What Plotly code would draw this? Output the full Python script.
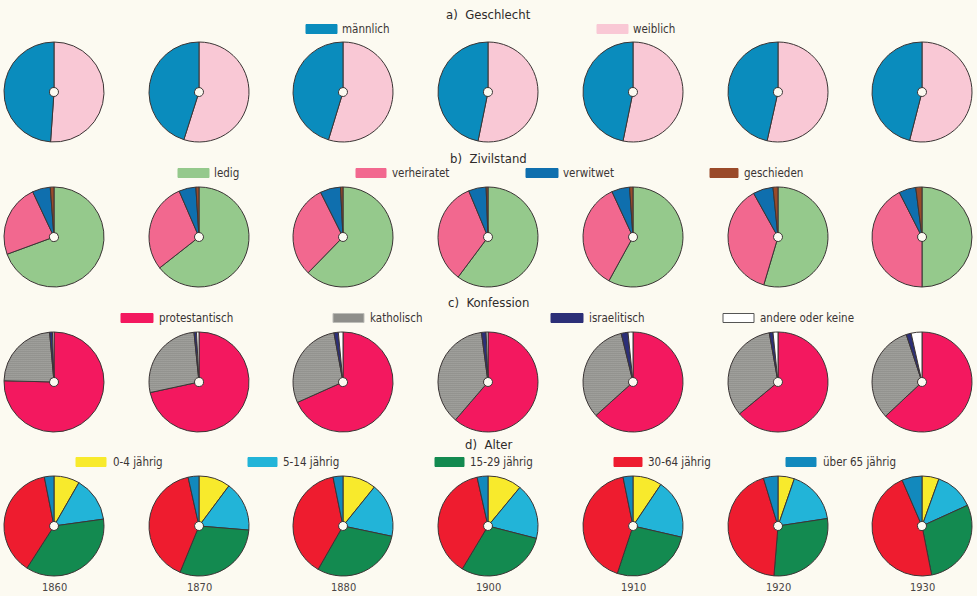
import plotly.graph_objects as go

W, H = 977, 596

years = ["1860", "1870", "1880", "1900", "1910", "1920", "1930"]

# a) Geschlecht
geschlecht_labels = ["männlich", "weiblich"]
maennlich = [48.9, 45.1, 45.3, 46.8, 46.8, 46.5, 46.0]
weiblich = [51.1, 54.9, 54.7, 53.2, 53.2, 53.5, 54.0]

# b) Zivilstand
zivil_labels = ["ledig", "verheiratet", "verwitwet", "geschieden"]
ledig = [69.4, 64.4, 62.3, 60.2, 58.0, 54.6, 50.0]
verheiratet = [23.6, 29.1, 30.3, 33.5, 35.1, 37.3, 42.5]
verwitwet = [5.8, 5.5, 6.6, 5.7, 5.8, 6.5, 5.5]
geschieden = [1.2, 1.0, 0.8, 0.6, 1.1, 1.6, 2.0]

# c) Konfession
konf_labels = ["protestantisch", "katholisch", "israelitisch", "andere oder keine"]
protestantisch = [75.4, 71.6, 68.3, 61.3, 63.3, 64.0, 63.0]
katholisch = [23.2, 26.8, 28.8, 36.6, 32.9, 33.2, 31.9]
israelitisch = [0.9, 0.8, 1.4, 1.5, 2.2, 1.2, 1.6]
andere = [0.5, 0.8, 1.5, 0.6, 1.6, 1.6, 3.5]

# d) Alter
alter_labels = ["0-4 jährig", "5-14 jährig", "15-29 jährig", "30-64 jährig", "über 65 jährig"]
a_0_4 = [8.3, 10.2, 10.8, 11.0, 9.4, 5.3, 5.5]
a_5_14 = [14.5, 16.1, 17.5, 18.0, 19.2, 17.3, 12.7]
a_15_29 = [36.3, 29.9, 30.0, 29.6, 26.5, 28.7, 28.7]
a_30_64 = [37.8, 40.3, 38.5, 37.9, 41.7, 44.0, 46.6]
a_65 = [3.1, 3.5, 3.2, 3.5, 3.2, 4.7, 6.5]

# ── styling / layout (pixels) ─────────────────────────────────────────────
BG = "#fcfaf1"
EDGE = "#3b3535"
FONT = "Liberation Sans Narrow, DejaVu Sans Condensed, sans-serif"
COL_X = [54, 199, 343, 488, 633, 778, 922]
ROW_Y = [92, 237, 382, 526]
R = 50

rows = [
    dict(title="a)  Geschlecht", title_y=14, legend_y=29, reverse=True,
         labels=geschlecht_labels, series=[maennlich, weiblich],
         colors=["#0a8cbd", "#f9c8d5"],
         legend_x=[(306, 337, 340), (597, 628, 631)]),
    dict(title="b)  Zivilstand", title_y=158, legend_y=173, reverse=False,
         labels=zivil_labels, series=[ledig, verheiratet, verwitwet, geschieden],
         colors=["#95c98c", "#f2688f", "#0f6fae", "#9a4a2a"],
         legend_x=[(178, 209, 212), (356, 386, 390), (526, 558, 561), (710, 738, 742)]),
    dict(title="c)  Konfession", title_y=302, legend_y=318, reverse=False,
         labels=konf_labels, series=[protestantisch, katholisch, israelitisch, andere],
         colors=["#f3185f", "#bdbdb8", "#2c2f78", "#ffffff"],
         legend_x=[(121, 153, 157), (333, 364, 368), (551, 583, 587), (723, 754, 758)]),
    dict(title="d)  Alter", title_y=445, legend_y=462, reverse=False,
         labels=alter_labels, series=[a_0_4, a_5_14, a_15_29, a_30_64, a_65],
         colors=["#f8ea2c", "#22b4d8", "#138a50", "#ee1c2f", "#1289bd"],
         legend_x=[(76, 106, 111), (248, 277, 281), (435, 464, 468), (614, 642, 646), (786, 816, 821)]),
]


def fx(x):
    return x / W


def fy(y):
    return 1 - y / H


fig = go.Figure()
shapes, annotations = [], []

for r, row in enumerate(rows):
    cy = ROW_Y[r]
    labels = list(row["labels"])
    colors = list(row["colors"])
    for c, year in enumerate(years):
        cx = COL_X[c]
        vals = [s[c] for s in row["series"]]
        labs, cols = labels, colors
        if row["reverse"]:
            vals, labs, cols = vals[::-1], labs[::-1], cols[::-1]
        pattern = None
        if labels == konf_labels:
            # speckled grey for "katholisch"
            pattern = dict(shape=["", ".", "", ""], fgcolor="#5a5a58", bgcolor="#d6d6d0",
                           size=2, solidity=0.55)
        fig.add_trace(go.Pie(
            labels=labs, values=vals,
            sort=False, direction="clockwise", rotation=0,
            hole=0.09, textinfo="none", showlegend=False,
            marker=dict(colors=cols, line=dict(color=EDGE, width=1),
                        pattern=pattern),
            domain=dict(x=[fx(cx - R), fx(cx + R)], y=[fy(cy + R), fy(cy - R)]),
            hovertemplate="%{label}: %{value}%<extra>" + year + "</extra>",
        ))

    # section title
    annotations.append(dict(x=fx(489), y=fy(row["title_y"]), xref="paper", yref="paper",
                            text=row["title"], showarrow=False,
                            xanchor="center", yanchor="middle",
                            font=dict(family=FONT, size=13, color="#2e2a2a")))
    # hand-made legend
    ly = row["legend_y"]
    for (x0, x1, tx), lab, col in zip(row["legend_x"], labels, colors):
        shapes.append(dict(type="rect", xref="paper", yref="paper",
                           x0=fx(x0), x1=fx(x1), y0=fy(ly + 4.5), y1=fy(ly - 4.5),
                           fillcolor="#8e8e8a" if lab == "katholisch" else col,
                           line=dict(color="#555" if col == "#ffffff" else col, width=1)))
        annotations.append(dict(x=fx(tx), y=fy(ly), xref="paper", yref="paper",
                                text=lab, showarrow=False,
                                xanchor="left", yanchor="middle",
                                font=dict(family=FONT, size=11.5, color="#3a3434")))

for c, year in enumerate(years):
    annotations.append(dict(x=fx(COL_X[c]), y=fy(587), xref="paper", yref="paper",
                            text=year, showarrow=False,
                            xanchor="center", yanchor="middle",
                            font=dict(family=FONT, size=11, color="#4a4545")))

fig.update_layout(
    width=W, height=H,
    margin=dict(l=0, r=0, t=0, b=0),
    paper_bgcolor=BG, plot_bgcolor=BG,
    shapes=shapes, annotations=annotations,
)
fig.write_html("out.html", config={"displayModeBar": False},
               post_script="document.body.style.margin='0';document.body.style.overflow='hidden';")
